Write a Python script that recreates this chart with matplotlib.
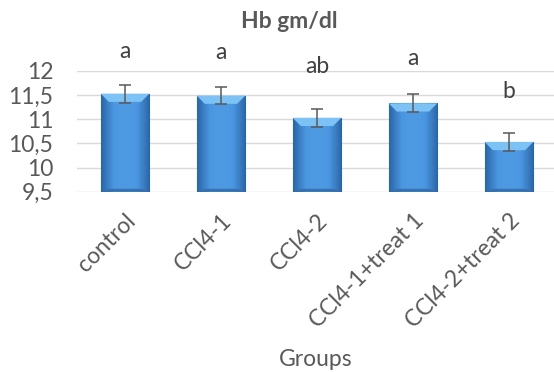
import numpy as np
import matplotlib
matplotlib.use("Agg")
import matplotlib.pyplot as plt
from matplotlib.colors import LinearSegmentedColormap
from matplotlib.patches import Polygon

plt.rcParams['font.family'] = ['Lato', 'DejaVu Sans']

groups = ['control', 'CCl4-1', 'CCl4-2', 'CCl4-1+treat 1', 'CCl4-2+treat 2']
hb = [11.53, 11.49, 11.03, 11.33, 10.53]
err = [0.19, 0.18, 0.18, 0.185, 0.185]
letters = ['a', 'a', 'ab', 'a', 'b']
letter_y = [12.40, 12.38, 12.09, 12.25, 11.57]

grey = '#595959'
fs = 16.5
fig = plt.figure(figsize=(5.54, 3.72), dpi=100)
ax = fig.add_axes([77 / 554, 1 - 191.7 / 372, 480 / 554, 120.7 / 372])

x = np.arange(len(groups))
w = 0.506
base = 9.5
bars = ax.bar(x, np.array(hb) - base, w, bottom=base, color='#4690d8',
              edgecolor='#2f6aa8', linewidth=0.8, zorder=2)

# bevel look: horizontal gradient inside each bar + lighter top facet
cmap = LinearSegmentedColormap.from_list('bev', ['#2b66a6', '#4a96e0', '#4f9be3', '#4a96e0', '#2b66a6'])
grad = np.linspace(0, 1, 64).reshape(1, -1)
for xi, v in zip(x, hb):
    im = ax.imshow(grad, cmap=cmap, aspect='auto', extent=(xi - w / 2, xi + w / 2, base, v), zorder=2.1)
    im.set_clip_path(bars[xi])
    bh = 0.17
    bx = 0.085
    top = Polygon([(xi - w / 2, v), (xi + w / 2, v), (xi + w / 2 - bx, v - bh), (xi - w / 2 + bx, v - bh)],
                  closed=True, facecolor='#7cc2f4', edgecolor='none', zorder=2.2)
    ax.add_patch(top)
    side = Polygon([(xi - w / 2, base), (xi + w / 2, base), (xi + w / 2 - bx, base + 0.06), (xi - w / 2 + bx, base + 0.06)],
                   closed=True, facecolor='#3670b0', edgecolor='none', zorder=2.2)
    ax.add_patch(side)

ax.errorbar(x, hb, yerr=err, fmt='none', ecolor=grey, elinewidth=1.1, capsize=4.3, capthick=1.1, zorder=3)

for xi, lab, ly in zip(x, letters, letter_y):
    ax.text(xi, ly, lab, ha='center', va='center', fontsize=fs, color='#404040', clip_on=False)

ax.set_xlim(-0.5, 4.5)
ax.set_ylim(9.5, 12)
ax.set_yticks([9.5, 10, 10.5, 11, 11.5, 12])
ax.set_yticklabels(['9,5', '10', '10,5', '11', '11,5', '12'])
ax.yaxis.grid(True, color='#d9d9d9', linewidth=1.0, zorder=0)
ax.set_axisbelow(True)
for s in ['top', 'right', 'left', 'bottom']:
    ax.spines[s].set_visible(False)
ax.tick_params(axis='y', length=0, pad=17, labelsize=fs, labelcolor=grey)
ax.tick_params(axis='x', length=0, pad=13, labelsize=fs, labelcolor=grey)
ax.set_xticks(x)
ax.set_xticklabels(groups, rotation=45, ha='right', rotation_mode='anchor')

fig.text(289 / 554, 1 - 21.7 / 372, 'Hb gm/dl', ha='center', va='center', fontsize=fs,
         fontweight='bold', color=grey)
fig.text(316 / 554, 1 - 359 / 372, 'Groups', ha='center', va='center', fontsize=fs, color=grey)

fig.savefig('out.png', dpi=100)
